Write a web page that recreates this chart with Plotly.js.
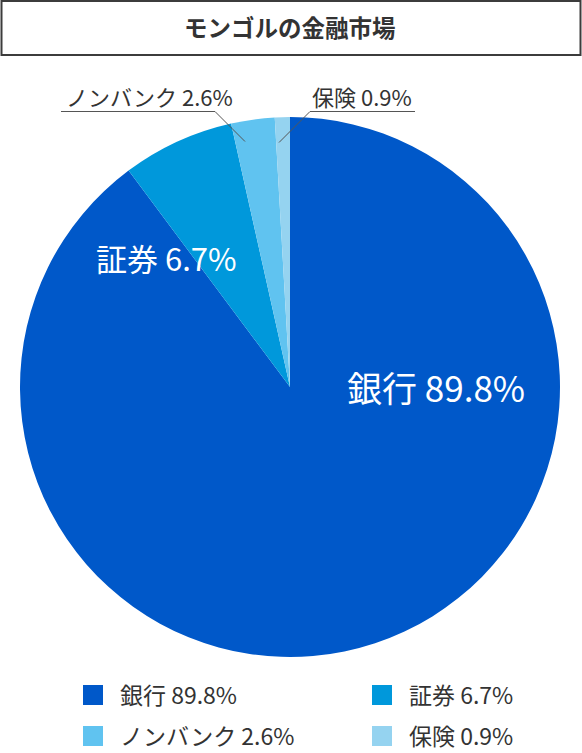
<!DOCTYPE html>
<html>
<head>
<meta charset="utf-8">
<script src="https://cdn.plot.ly/plotly-3.0.1.min.js"></script>
<style>
  html, body { margin: 0; padding: 0; background: #ffffff; }
  #chart { width: 582px; height: 753px; }
</style>
</head>
<body>
<div id="chart"></div>
<script>
// Mongolian financial market shares (%)
const sectors = ['銀行', '証券', 'ノンバンク', '保険'];
const shares = [89.8, 6.7, 2.6, 0.9];
const sectorColors = ['#0058C9', '#0098DB', '#60C3F0', '#95D3F0'];
const chartTitle = 'モンゴルの金融市場';

const W = 582, H = 753;
const FONT = '"Noto Sans CJK JP", "Noto Sans", sans-serif';

// pixel -> paper helpers
const px = x => x / W;
const py = y => 1 - y / H;

const labelText = i => sectors[i] + ' ' + shares[i].toFixed(1) + '%';

const pie = {
  type: 'pie',
  labels: sectors,
  values: shares,
  sort: false,
  direction: 'clockwise',
  rotation: 0,
  textinfo: 'none',
  hovertemplate: '%{label} %{value:.1f}%<extra></extra>',
  marker: { colors: sectorColors, line: { width: 0 } },
  domain: { x: [px(20), px(560)], y: [py(657), py(117)] },
  showlegend: false
};

const annotations = [];
const shapes = [];

// title box
shapes.push({
  type: 'rect', xref: 'paper', yref: 'paper',
  x0: px(1.5), x1: px(580.5), y0: py(55), y1: py(1),
  line: { color: '#3c3c3c', width: 2 }, fillcolor: 'rgba(0,0,0,0)'
});
annotations.push({
  xref: 'paper', yref: 'paper', x: px(290), y: py(27),
  xanchor: 'center', yanchor: 'middle', showarrow: false,
  text: chartTitle,
  font: { family: FONT, size: 23.5, color: '#333333', weight: 'bold' }
});

// labels inside the two large slices
annotations.push({
  xref: 'paper', yref: 'paper', x: px(436), y: py(386),
  xanchor: 'center', yanchor: 'middle', showarrow: false,
  text: labelText(0), font: { family: FONT, size: 35, color: '#ffffff' }
});
annotations.push({
  xref: 'paper', yref: 'paper', x: px(166), y: py(258),
  xanchor: 'center', yanchor: 'middle', showarrow: false,
  text: labelText(1), font: { family: FONT, size: 31, color: '#ffffff' }
});

// outside labels for the small slices with leader lines
annotations.push({
  xref: 'paper', yref: 'paper', x: px(149), y: py(96),
  xanchor: 'center', yanchor: 'middle', showarrow: false,
  text: labelText(2), font: { family: FONT, size: 22, color: '#333333' }
});
annotations.push({
  xref: 'paper', yref: 'paper', x: px(362), y: py(96),
  xanchor: 'center', yanchor: 'middle', showarrow: false,
  text: labelText(3), font: { family: FONT, size: 22, color: '#333333' }
});
const leader = pts => 'M' + pts.map(p => px(p[0]) + ',' + py(p[1])).join(' L');
shapes.push({
  type: 'path', xref: 'paper', yref: 'paper',
  path: leader([[61, 111.5], [215, 111.5], [245, 141.5]]),
  line: { color: '#555555', width: 1 }
});
shapes.push({
  type: 'path', xref: 'paper', yref: 'paper',
  path: leader([[415, 111.5], [310, 111.5], [279, 142.5]]),
  line: { color: '#555555', width: 1 }
});

// two-column key below the pie
const keyCols = [83, 372];
const keyRows = [695, 736];
sectors.forEach((s, i) => {
  const cx = keyCols[i % 2];
  const cy = keyRows[Math.floor(i / 2)];
  shapes.push({
    type: 'rect', xref: 'paper', yref: 'paper',
    x0: px(cx), x1: px(cx + 20), y0: py(cy + 10), y1: py(cy - 10),
    fillcolor: sectorColors[i], line: { width: 0 }
  });
  annotations.push({
    xref: 'paper', yref: 'paper', x: px(cx + 36), y: py(cy - 1),
    xanchor: 'left', yanchor: 'middle', showarrow: false, borderpad: 0,
    text: labelText(i), font: { family: FONT, size: 23, color: '#333333' }
  });
});

const layout = {
  width: W, height: H,
  margin: { l: 0, r: 0, t: 0, b: 0 },
  paper_bgcolor: '#ffffff',
  showlegend: false,
  annotations: annotations,
  shapes: shapes
};

Plotly.newPlot('chart', [pie], layout, { displayModeBar: false, staticPlot: true });
</script>
</body>
</html>
